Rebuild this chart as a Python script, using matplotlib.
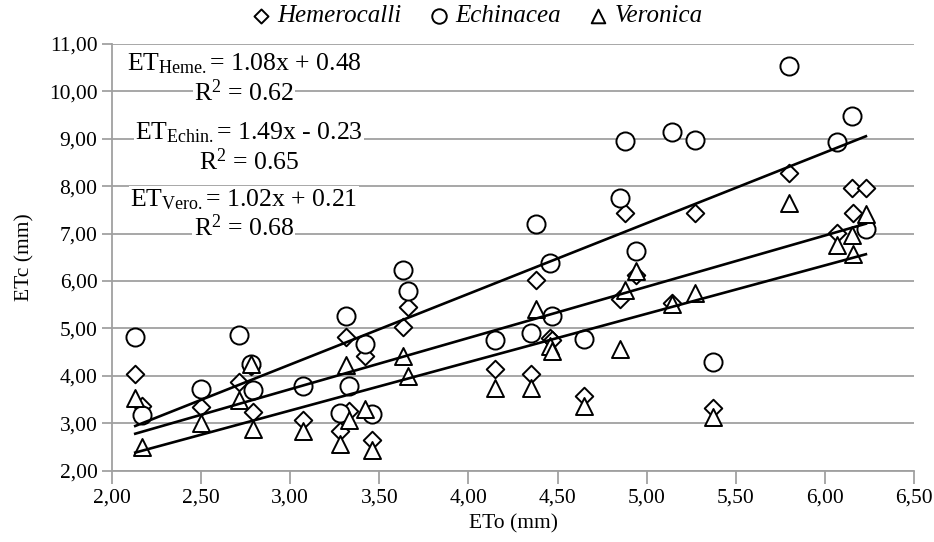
import numpy as np
import matplotlib.pyplot as plt
from matplotlib.ticker import FuncFormatter

plt.rcParams['font.family'] = ['Liberation Serif', 'DejaVu Serif']
plt.rcParams['mathtext.fontset'] = 'custom'
plt.rcParams['mathtext.rm'] = 'Liberation Serif'
plt.rcParams['mathtext.it'] = 'Liberation Serif:italic'

# ETo (mm) and ETc (mm) for the three species
eto = [2.13, 2.17, 2.50, 2.71, 2.78, 2.79, 3.07, 3.28, 3.31, 3.33, 3.42, 3.46,
       3.63, 3.66, 4.15, 4.35, 4.38, 4.46, 4.47, 4.65, 4.85, 4.88, 4.94, 5.14,
       5.27, 5.37, 5.80, 6.07, 6.15, 6.16, 6.23]
heme = [4.03, 3.37, 3.35, 3.88, 4.20, 3.23, 3.07, 2.84, 4.83, 3.25, 4.41, 2.65,
        5.04, 5.45, 4.15, 4.03, 6.03, 4.80, 4.76, 3.58, 5.62, 7.44, 6.12, 5.53,
        7.43, 3.32, 8.27, 7.02, 7.97, 7.44, 7.97]
echin = [4.83, 3.18, 3.72, 4.87, 4.25, 3.71, 3.78, 3.21, 5.27, 3.78, 4.67, 3.20,
         6.24, 5.80, 4.76, 4.90, 7.21, 6.38, 5.27, 4.78, 7.76, 8.95, 6.63, 9.15,
         8.98, 4.30, 10.53, 8.93, 9.47, np.nan, 7.09]
vero = [3.53, 2.49, 3.01, 3.49, 4.25, 2.88, 2.84, 2.56, 4.23, 3.06, 3.30, 2.44,
        4.41, 4.00, 3.74, 3.75, 5.42, 4.62, 4.52, 3.37, 4.57, 5.82, 6.21, 5.52,
        5.75, 3.14, 7.65, 6.77, 6.98, 6.56, 7.41]

# regression coefficients (slope, intercept) and R2 as printed on the chart
fits = {'Heme.': (1.08, 0.48, 0.62), 'Echin.': (1.49, -0.23, 0.65), 'Vero.': (1.02, 0.21, 0.68)}

fig = plt.figure(figsize=(9.34, 5.42), dpi=100)
ax = fig.add_axes([0.12, 0.1315, 0.8586, 0.7875])

eto_arr = np.array(eto)
ax.scatter(eto, heme, marker='D', s=80, facecolors='white', edgecolors='black',
           linewidths=1.4, zorder=3, label='Hemerocalli')
ax.scatter(eto, echin, marker='o', s=170, facecolors='white', edgecolors='black',
           linewidths=1.4, zorder=3, label='Echinacea')
ax.scatter(eto, vero, marker='^', s=150, facecolors='white', edgecolors='black',
           linewidths=1.4, zorder=3, label='Veronica')

xl = np.array([eto_arr.min(), eto_arr.max()])
for k, (a, b, r2) in fits.items():
    ax.plot(xl, a * xl + b, color='black', lw=1.9, zorder=4)

ax.set_xlim(2, 6.5)
ax.set_ylim(2, 11)
ax.set_xticks(np.arange(2, 6.51, 0.5))
ax.set_yticks(np.arange(2, 11.01, 1))
fmt = FuncFormatter(lambda v, p: f'{v:.2f}'.replace('.', ','))
ax.xaxis.set_major_formatter(fmt)
ax.yaxis.set_major_formatter(fmt)
ax.tick_params(labelsize=15.5, color='#999999', length=7, width=1.2)
ax.tick_params(axis='x', direction='out', length=9)
ax.grid(axis='y', color='#a0a0a0', lw=1.3, zorder=0)
ax.set_axisbelow(True)
for s in ['top', 'right']:
    ax.spines[s].set_visible(False)
for s in ['left', 'bottom']:
    ax.spines[s].set_color('#a0a0a0')
    ax.spines[s].set_linewidth(1.3)
ax.set_xlabel('ETo (mm)', fontsize=15.5, labelpad=5)
ax.set_ylabel('ETc (mm)', fontsize=15.5, labelpad=10)

# equation labels
ypos = [10.58, 9.12, 7.72]
xpos = [2.74, 2.77, 2.74]
for (k, (a, b, r2)), yy, xx in zip(fits.items(), ypos, xpos):
    sign = '+' if b >= 0 else '-'
    eq = rf'ET$_{{\mathrm{{{k}}}}}$= {a:.2f}x {sign} {abs(b):.2f}'
    ax.text(xx, yy, eq, fontsize=18.5, ha='center', va='center', zorder=5,
            bbox=dict(facecolor='white', edgecolor='none', pad=1))
    ax.text(xx, yy - 0.6, rf'R$^{{2}}$ = {r2:.2f}', fontsize=18.5, ha='center',
            va='center', zorder=5, bbox=dict(facecolor='white', edgecolor='none', pad=1))

leg = ax.legend(loc='center', bbox_to_anchor=(0.455, 1.065), ncol=3, frameon=False,
                handletextpad=0.25, handlelength=0.8, columnspacing=1.1, borderaxespad=0,
                prop={'family': 'Liberation Serif', 'style': 'italic', 'size': 18},
                markerscale=0.8)

fig.savefig('out.png', dpi=100)
